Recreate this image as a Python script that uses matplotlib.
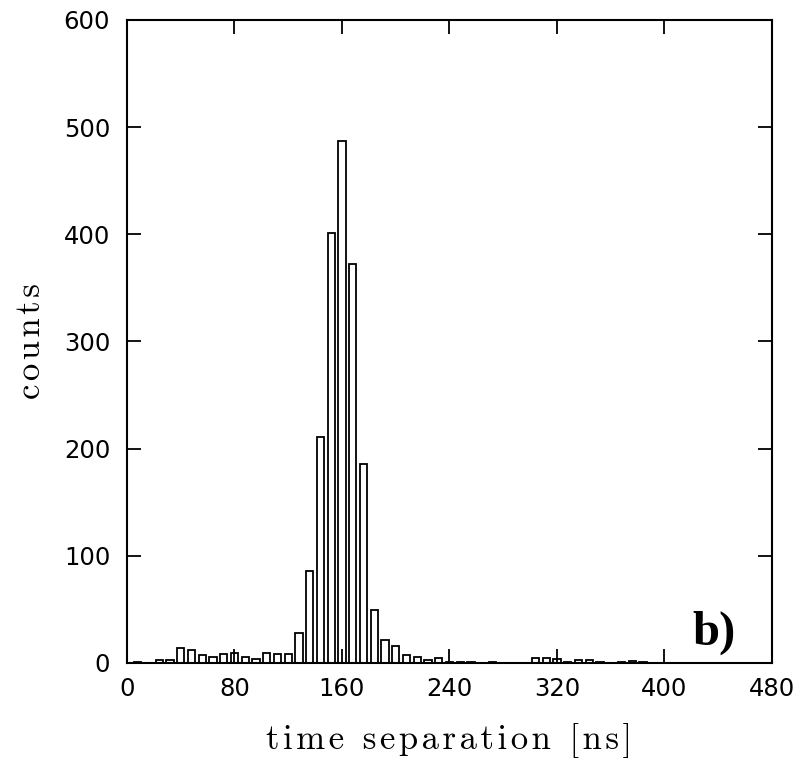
import numpy as np
import matplotlib
matplotlib.use('Agg')
import matplotlib.pyplot as plt

# histogram of time separations, 8 ns bins centred on multiples of 8 ns
bin_width = 8
counts = [0, 1, 0, 3, 3, 14, 12, 7, 6, 8,
          9, 6, 4, 9, 8, 8, 28, 86, 211, 401,
          487, 372, 186, 49, 21, 16, 7, 6, 3, 5,
          1, 1, 1, 0, 1, 0, 0, 0, 5, 5,
          4, 1, 3, 3, 1, 0, 1, 2, 1, 0,
          0, 0, 0, 0, 0, 0, 0, 0, 0, 0]
x_ticks = [0, 80, 160, 240, 320, 400, 480]
y_ticks = [0, 100, 200, 300, 400, 500, 600]

centers = np.arange(len(counts)) * bin_width


def spaced(s):
    # a bit of letter spacing like the original lettering
    return '\u200a'.join(s)


fig = plt.figure(figsize=(8.03, 7.67), dpi=100)
ax = fig.add_axes([0.158, 0.1356, 0.8034, 0.8384])

ax.bar(centers, counts, width=5.4, facecolor='white', edgecolor='black', linewidth=1.3)

ax.set_xlim(0, 480)
ax.set_ylim(0, 600)
ax.set_xticks(x_ticks)
ax.set_yticks(y_ticks)
ax.tick_params(direction='in', length=10, width=1.3, top=True, right=True, labelsize=17.5)
ax.tick_params(axis='x', pad=10)
ax.tick_params(axis='y', pad=12)
for s in ax.spines.values():
    s.set_linewidth(1.5)

lab_font = ['cmr10', 'DejaVu Sans']
ax.set_xlabel(spaced('time separation [ns]'), family=lab_font, fontsize=25, labelpad=16)
ax.set_ylabel(spaced('counts'), family=lab_font, fontsize=25, labelpad=12)

ax.text(0.91, 0.047, 'b)', transform=ax.transAxes, ha='center', va='center',
        family='Liberation Serif', fontweight='bold', fontsize=35)

fig.savefig('out.png', dpi=100)
